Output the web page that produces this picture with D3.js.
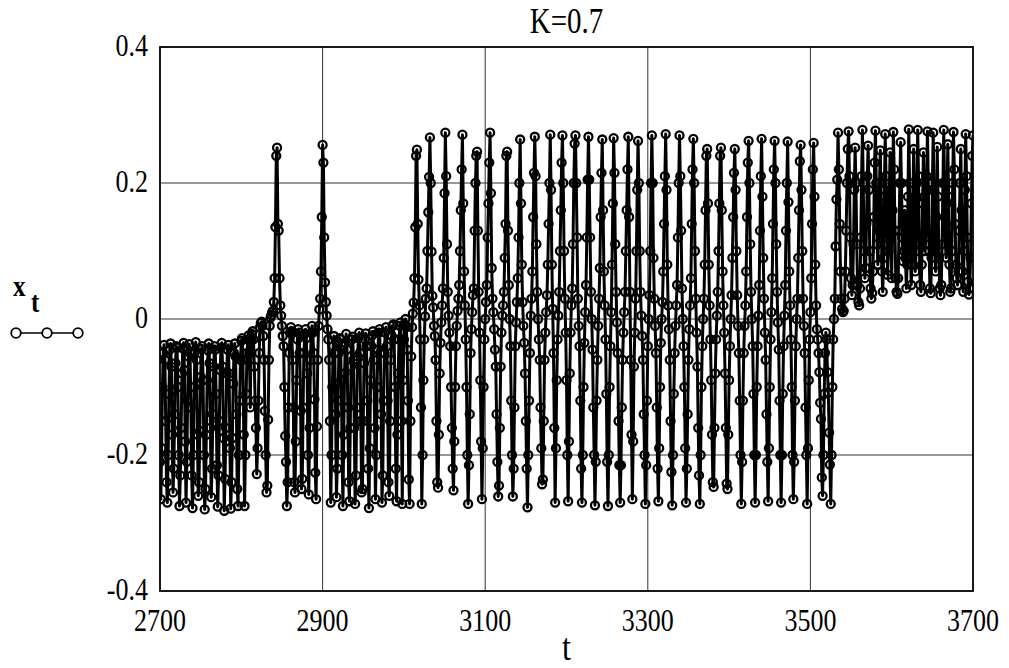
<!DOCTYPE html>
<html><head><meta charset="utf-8">
<script src="https://cdn.jsdelivr.net/npm/d3@7"></script>
<style>html,body{margin:0;padding:0;background:#fff;}svg{display:block;}</style>
</head><body>
<svg id="chart" width="1009" height="668"></svg>
<script>
// Trajectory x_t of the map for K = 0.7, sampled at every integer t from 2700 to 3700.
const title = "K=0.7";
const tStart = 2700;
const xTicks = [2700, 2900, 3100, 3300, 3500, 3700];
const yTicks = [-0.4, -0.2, 0, 0.2, 0.4];

// t 2700-2811: lower band
const xtLowA = [
  -0.21, -0.265, -0.19, -0.1, -0.05, -0.038, -0.06, -0.15,
  -0.24, -0.27, -0.2, -0.11, -0.045, -0.036, -0.07, -0.17,
  -0.255, -0.22, -0.14, -0.065, -0.04, -0.042, -0.1, -0.2,
  -0.275, -0.23, -0.16, -0.08, -0.043, -0.035, -0.075, -0.18,
  -0.27, -0.21, -0.12, -0.055, -0.037, -0.05, -0.13, -0.23,
  -0.278, -0.2, -0.1, -0.048, -0.034, -0.06, -0.17, -0.26,
  -0.24, -0.165, -0.085, -0.044, -0.04, -0.09, -0.2, -0.28,
  -0.25, -0.17, -0.09, -0.046, -0.036, -0.065, -0.16, -0.262,
  -0.22, -0.14, -0.07, -0.04, -0.045, -0.11, -0.215, -0.276,
  -0.23, -0.15, -0.075, -0.042, -0.035, -0.07, -0.175, -0.282,
  -0.235, -0.16, -0.08, -0.045, -0.038, -0.08, -0.19, -0.279,
  -0.24, -0.175, -0.095, -0.05, -0.036, -0.055, -0.14, -0.25,
  -0.275, -0.2, -0.12, -0.06, -0.032, -0.028, -0.06, -0.17,
  -0.275, -0.2, -0.11, -0.05, -0.03, -0.024, -0.05, -0.13
];
// t 2812-2851: rise towards zero and first burst
const xtRiseB = [
  -0.03, -0.022, -0.018, -0.03, -0.07, -0.12, -0.16, -0.228, -0.19, -0.12,
  -0.05, -0.012, -0.006, -0.004, -0.01, -0.025, -0.06, -0.135, -0.2, -0.255,
  -0.245, -0.148, -0.06, -0.01, 0.002, 0.006, 0.01, 0.012, 0.025, 0.06,
  0.135, 0.24, 0.252, 0.14, 0.13, 0.06, 0.02, 0.005, -0.01, -0.025
];
// t 2852-2893
const xtLowC = [
  -0.04, -0.1, -0.172, -0.21, -0.275, -0.24, -0.13, -0.05, -0.02, -0.012,
  -0.018, -0.06, -0.13, -0.24, -0.255, -0.18, -0.09, -0.03, -0.015, -0.02,
  -0.05, -0.135, -0.25, -0.235, -0.13, -0.05, -0.022, -0.015, -0.028, -0.08,
  -0.2, -0.258, -0.16, -0.06, -0.02, -0.01, -0.02, -0.05, -0.118, -0.226,
  -0.265, -0.158
];
// t 2894-2907: second burst
const xtSpike = [
  -0.06, -0.01, 0.014, 0.03, 0.07, 0.15, 0.256, 0.23, 0.12, 0.054, 0.025, 0.005, -0.015, -0.03
];
// t 2908-2998: lower band again
const xtLowD = [
  -0.06, -0.15, -0.27, -0.2, -0.1, -0.04, -0.025, -0.05,
  -0.14, -0.262, -0.22, -0.12, -0.05, -0.028, -0.03, -0.09,
  -0.2, -0.275, -0.17, -0.08, -0.035, -0.022, -0.045, -0.13,
  -0.24, -0.268, -0.16, -0.07, -0.03, -0.026, -0.06, -0.16,
  -0.272, -0.23, -0.13, -0.055, -0.028, -0.02, -0.05, -0.15,
  -0.255, -0.25, -0.15, -0.065, -0.03, -0.021, -0.04, -0.12,
  -0.22, -0.278, -0.19, -0.09, -0.04, -0.024, -0.018, -0.06,
  -0.16, -0.265, -0.2, -0.1, -0.045, -0.02, -0.015, -0.05,
  -0.14, -0.27, -0.23, -0.12, -0.05, -0.02, -0.012, -0.04,
  -0.12, -0.24, -0.26, -0.15, -0.06, -0.025, -0.01, -0.008,
  -0.03, -0.1, -0.22, -0.268, -0.17, -0.08, -0.03, -0.01,
  -0.005, -0.15, -0.272
];
// t 2999-3530: wide oscillation around zero
const xtMid = [
  -0.09, -0.03, -0.008, 0.0, -0.012, -0.045, -0.12, -0.236, -0.272,
  -0.15, -0.055, -0.012, 0.008, 0.024, 0.06, 0.135, 0.24, 0.249,
  0.14, 0.058, 0.02, -0.03, -0.13, -0.272,
  -0.2, -0.09, -0.03, 0.004, 0.03, 0.045, 0.1, 0.157, 0.209, 0.267,
  0.2, 0.099, 0.034, 0.017, -0.01, -0.025, -0.06, -0.15, -0.24, -0.248,
  -0.17, -0.08, -0.035, -0.005, 0.02, 0.045, 0.09, 0.185, 0.274,
  0.21, 0.11, 0.04, 0.005, -0.02, -0.04, -0.1, -0.16, -0.22, -0.252,
  -0.18, -0.1, -0.04, -0.01, 0.012, 0.03, 0.05, 0.1, 0.16, 0.22, 0.271,
  0.17, 0.07, 0.02, -0.03, -0.1, -0.2, -0.272,
  -0.215, -0.14, -0.05, -0.015, 0.01, 0.035, 0.045, 0.13, 0.2, 0.24, 0.246,
  0.13, 0.04, -0.02, -0.09, -0.18, -0.265,
  -0.19, -0.1, -0.03, 0.0, 0.025, 0.05, 0.12, 0.17, 0.23, 0.274,
  0.185, 0.075, 0.03, 0.01, -0.015, -0.045, -0.07, -0.14, -0.21, -0.261,
  -0.245, -0.16, -0.07, -0.02, 0.005, 0.02, 0.04, 0.09, 0.14, 0.24, 0.246,
  0.13, 0.05, 0.0, -0.04, -0.12, -0.2, -0.261,
  -0.22, -0.13, -0.04, -0.005, 0.025, 0.06, 0.12, 0.2, 0.264,
  0.17, 0.08, 0.025, -0.01, -0.035, -0.08, -0.15, -0.22, -0.277,
  -0.2, -0.12, -0.05, 0.005, 0.03, 0.07, 0.15, 0.215, 0.268,
  0.21, 0.11, 0.04, 0.0, -0.03, -0.06, -0.13, -0.19, -0.243,
  -0.236, -0.15, -0.06, -0.02, 0.01, 0.035, 0.08, 0.14, 0.2, 0.271,
  0.19, 0.08, 0.015, -0.05, -0.16, -0.27,
  -0.19, -0.09, -0.03, 0.005, 0.04, 0.1, 0.16, 0.23, 0.27,
  0.2, 0.1, 0.03, -0.02, -0.09, -0.2, -0.268,
  -0.18, -0.08, -0.02, 0.02, 0.045, 0.11, 0.2, 0.258, 0.27,
  0.2, 0.12, 0.03, -0.01, -0.04, -0.12, -0.22, -0.27,
  -0.2, -0.1, -0.035, 0.01, 0.05, 0.12, 0.205, 0.268,
  0.205, 0.12, 0.04, 0.0, -0.045, -0.13, -0.2, -0.274,
  -0.21, -0.12, -0.06, -0.01, 0.03, 0.075, 0.15, 0.215, 0.264,
  0.16, 0.07, 0.02, -0.03, -0.11, -0.21, -0.275,
  -0.2, -0.1, -0.04, 0.01, 0.08, 0.17, 0.266,
  0.215, 0.11, 0.04, -0.005, -0.05, -0.15, -0.215, -0.27,
  -0.215, -0.13, -0.06, -0.02, 0.01, 0.04, 0.1, 0.16, 0.22, 0.268,
  0.15, 0.04, -0.06, -0.17, -0.265,
  -0.18, -0.07, -0.02, 0.03, 0.1, 0.19, 0.262,
  0.2, 0.1, 0.04, 0.005, -0.025, -0.06, -0.14, -0.2, -0.272,
  -0.215, -0.12, -0.04, 0.0, 0.035, 0.1, 0.2, 0.27,
  0.2, 0.09, 0.03, -0.01, -0.05, -0.13, -0.22, -0.268,
  -0.19, -0.1, -0.035, 0.0, 0.025, 0.07, 0.14, 0.21, 0.272,
  0.19, 0.08, 0.02, -0.015, -0.06, -0.15, -0.225, -0.274,
  -0.2, -0.11, -0.05, -0.01, 0.02, 0.05, 0.12, 0.2, 0.27,
  0.21, 0.13, 0.045, 0.0, -0.04, -0.1, -0.19, -0.27,
  -0.22, -0.14, -0.06, -0.015, 0.02, 0.06, 0.14, 0.22, 0.265,
  0.2, 0.1, 0.03, -0.02, -0.07, -0.16, -0.23, -0.272,
  -0.2, -0.1, -0.04, 0.0, 0.03, 0.08, 0.16, 0.24, 0.25,
  0.17, 0.08, 0.02, -0.03, -0.09, -0.17, -0.24, -0.247,
  -0.16, -0.08, -0.03, 0.005, 0.04, 0.1, 0.17, 0.24, 0.252,
  0.16, 0.07, 0.02, -0.02, -0.08, -0.16, -0.242, -0.25,
  -0.17, -0.09, -0.04, 0.0, 0.035, 0.09, 0.15, 0.215, 0.25,
  0.19, 0.1, 0.035, -0.01, -0.05, -0.12, -0.2, -0.272,
  -0.21, -0.12, -0.05, -0.01, 0.02, 0.07, 0.15, 0.23, 0.262,
  0.2, 0.11, 0.04, 0.0, -0.04, -0.11, -0.2, -0.27,
  -0.2, -0.1, -0.04, 0.005, 0.05, 0.13, 0.21, 0.265,
  0.18, 0.09, 0.03, -0.02, -0.06, -0.14, -0.21, -0.268,
  -0.19, -0.1, -0.03, 0.01, 0.06, 0.14, 0.22, 0.262,
  0.2, 0.11, 0.04, -0.005, -0.045, -0.12, -0.2, -0.27,
  -0.2, -0.11, -0.04, 0.005, 0.05, 0.13, 0.2, 0.261,
  0.172, 0.07, 0.02, -0.03, -0.1, -0.2, -0.265,
  -0.21, -0.12, -0.04, 0.0, 0.03, 0.09, 0.16, 0.232, 0.256,
  0.19, 0.1, 0.03, -0.01, -0.05, -0.13, -0.2, -0.272,
  -0.19, -0.09, -0.03, 0.01, 0.06, 0.14, 0.22, 0.259,
  0.18, 0.08, 0.02, -0.015, -0.03, -0.05, -0.078, -0.123, -0.147, -0.233, -0.26,
  -0.2, -0.11, -0.05, -0.02, -0.03, -0.078, -0.108, -0.167, -0.214, -0.272,
  -0.2, -0.1, -0.03, 0.0, 0.03
];
// t 3531-3700: upper band
const xtHigh = [
  0.107, 0.176, 0.205, 0.274,
  0.22, 0.14, 0.07, 0.03, 0.015, 0.01, 0.012, 0.03, 0.07, 0.13, 0.2, 0.25, 0.276,
  0.21, 0.12, 0.06, 0.035, 0.05, 0.11, 0.19, 0.252,
  0.2, 0.11, 0.05, 0.025, 0.02, 0.045, 0.12, 0.21, 0.278,
  0.2, 0.1, 0.06, 0.075, 0.14, 0.21, 0.255,
  0.19, 0.1, 0.045, 0.03, 0.038, 0.07, 0.15, 0.23, 0.277,
  0.2, 0.11, 0.08, 0.13, 0.2, 0.248,
  0.17, 0.07, 0.04, 0.09, 0.19, 0.272,
  0.21, 0.12, 0.065, 0.1, 0.18, 0.245,
  0.15, 0.06, 0.16, 0.275,
  0.22, 0.13, 0.06, 0.04, 0.037, 0.06, 0.13, 0.2, 0.26,
  0.2, 0.12, 0.085, 0.1, 0.16, 0.09, 0.045, 0.08, 0.18, 0.279,
  0.2, 0.1, 0.05, 0.08, 0.17, 0.25,
  0.16, 0.07, 0.1, 0.2, 0.278,
  0.21, 0.11, 0.05, 0.04, 0.08, 0.17, 0.245,
  0.18, 0.1, 0.12, 0.21, 0.276,
  0.2, 0.1, 0.045, 0.038, 0.09, 0.19, 0.274,
  0.19, 0.1, 0.07, 0.15, 0.253,
  0.18, 0.09, 0.045, 0.035, 0.05, 0.11, 0.2, 0.278,
  0.2, 0.11, 0.09, 0.17, 0.257,
  0.18, 0.08, 0.04, 0.045, 0.1, 0.2, 0.275,
  0.22, 0.14, 0.08, 0.06, 0.05, 0.07, 0.13, 0.2, 0.25,
  0.16, 0.07, 0.04, 0.1, 0.19, 0.272,
  0.21, 0.12, 0.055, 0.036, 0.045, 0.09, 0.17, 0.24, 0.27
];

const xt = [].concat(xtLowA, xtRiseB, xtLowC, xtSpike, xtLowD, xtMid, xtHigh);
const series = xt.map((v, i) => ({ t: tStart + i, v }));

const plot = { left: 160, right: 973, top: 47, bottom: 591 };
const textStretch = 1.2;

const svg = d3.select("#chart");
const x = d3.scaleLinear().domain([xTicks[0], xTicks[xTicks.length - 1]]).range([plot.left, plot.right]);
const y = d3.scaleLinear().domain([yTicks[0], yTicks[yTicks.length - 1]]).range([plot.bottom, plot.top]);

function label(g, px, py, str, size, anchor, weight) {
  return g.append("text")
    .attr("transform", `translate(${px},${py}) scale(1,${textStretch})`)
    .attr("text-anchor", anchor || "middle")
    .style("font-family", '"Liberation Serif"')
    .style("font-size", size + "px")
    .style("font-weight", weight || "normal")
    .attr("fill", "#000")
    .text(str);
}

// grid
const grid = svg.append("g");
grid.selectAll("line.vx").data(xTicks.slice(1, -1)).join("line")
  .attr("x1", d => x(d)).attr("x2", d => x(d))
  .attr("y1", plot.top).attr("y2", plot.bottom)
  .attr("stroke", "#333").attr("stroke-width", 1);
grid.selectAll("line.hy").data(yTicks.slice(1, -1)).join("line")
  .attr("x1", plot.left).attr("x2", plot.right)
  .attr("y1", d => y(d)).attr("y2", d => y(d))
  .attr("stroke", "#333").attr("stroke-width", 1);

// data
svg.append("clipPath").attr("id", "plotClip").append("rect")
  .attr("x", plot.left).attr("y", plot.top)
  .attr("width", plot.right - plot.left).attr("height", plot.bottom - plot.top);
const data = svg.append("g").attr("clip-path", "url(#plotClip)");
const line = d3.line().x(d => x(d.t)).y(d => y(d.v));
data.append("path").datum(series)
  .attr("d", line).attr("fill", "none")
  .attr("stroke", "#000").attr("stroke-width", 3).attr("stroke-linejoin", "round");
data.selectAll("circle").data(series).join("circle")
  .attr("cx", d => x(d.t)).attr("cy", d => y(d.v)).attr("r", 4)
  .attr("fill", "none").attr("stroke", "#000").attr("stroke-width", 2.3);

// frame
svg.append("rect")
  .attr("x", plot.left).attr("y", plot.top)
  .attr("width", plot.right - plot.left).attr("height", plot.bottom - plot.top)
  .attr("fill", "none").attr("stroke", "#000").attr("stroke-width", 1.8);

// tick labels
xTicks.forEach(d => label(svg, x(d), 631, String(d), 26));
yTicks.forEach(d => label(svg, 148, y(d) + 9, String(d), 26, "end"));

// titles
label(svg, (plot.left + plot.right) / 2, 33, title, 29);
label(svg, (plot.left + plot.right) / 2, 660, "t", 32);

// series key
const key = svg.append("g");
label(key, 13, 296, "x", 25, "start", "bold");
label(key, 31, 312, "t", 25, "start", "bold");
const keyY = 333, keyX = [16, 47, 78];
key.append("line").attr("x1", keyX[0]).attr("x2", keyX[2]).attr("y1", keyY).attr("y2", keyY)
  .attr("stroke", "#000").attr("stroke-width", 1.5);
key.selectAll("circle").data(keyX).join("circle")
  .attr("cx", d => d).attr("cy", keyY).attr("r", 4.8)
  .attr("fill", "#fff").attr("stroke", "#000").attr("stroke-width", 1.8);
</script>
</body></html>
